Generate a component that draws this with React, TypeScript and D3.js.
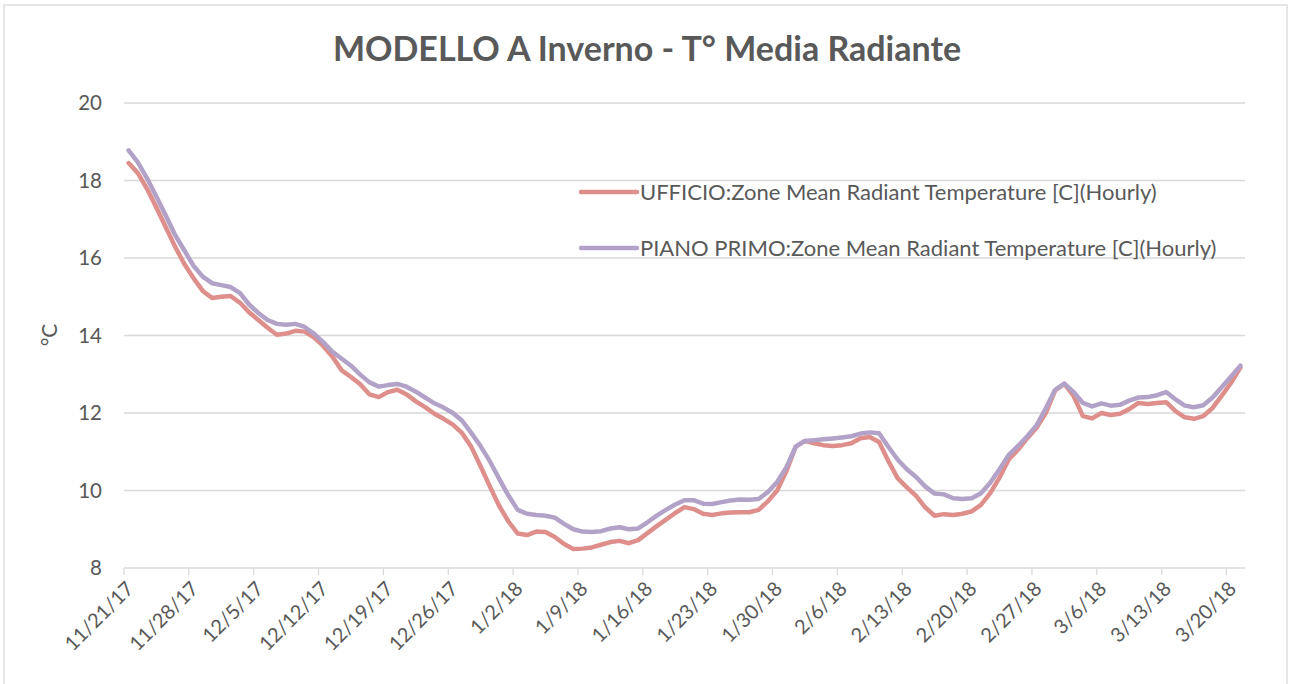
import React from "react";
import * as d3 from "d3";

const startDate = "2017-11-21";
const axisEndDate = "2018-03-22";
const tickLabels = ["11/21/17","11/28/17","12/5/17","12/12/17","12/19/17","12/26/17","1/2/18","1/9/18","1/16/18","1/23/18","1/30/18","2/6/18","2/13/18","2/20/18","2/27/18","3/6/18","3/13/18","3/20/18"];
const yTicks = [8, 10, 12, 14, 16, 18, 20];

const seriesNames = [
  "UFFICIO:Zone Mean Radiant Temperature [C](Hourly)",
  "PIANO PRIMO:Zone Mean Radiant Temperature [C](Hourly)",
];

const ufficio = [
  18.45, 18.19, 17.78, 17.3, 16.8, 16.3, 15.85, 15.48, 15.15, 14.97,
  15.0, 15.02, 14.85, 14.6, 14.4, 14.2, 14.02, 14.05, 14.12, 14.1,
  13.95, 13.73, 13.45, 13.1, 12.93, 12.74, 12.48, 12.41, 12.54, 12.6,
  12.48, 12.3, 12.15, 11.98, 11.85, 11.7, 11.48, 11.12, 10.62, 10.1,
  9.6, 9.2, 8.89, 8.85, 8.94, 8.93, 8.8, 8.62, 8.49, 8.5,
  8.53, 8.6, 8.67, 8.7, 8.64, 8.72, 8.9, 9.08, 9.25, 9.42,
  9.57, 9.52, 9.4, 9.37, 9.41, 9.43, 9.44, 9.44, 9.5, 9.72,
  10.0, 10.5, 11.13, 11.28, 11.22, 11.17, 11.15, 11.17, 11.22, 11.35,
  11.38, 11.25, 10.76, 10.32, 10.08, 9.86, 9.56, 9.35, 9.39, 9.37,
  9.4, 9.46, 9.63, 9.93, 10.33, 10.8, 11.05, 11.35, 11.62, 12.0,
  12.58, 12.75, 12.44, 11.92, 11.86, 12.0, 11.95, 11.98, 12.1, 12.26,
  12.23, 12.26, 12.28, 12.05, 11.89, 11.85, 11.92, 12.13, 12.45, 12.78,
  13.17,
];

const pianoPrimo = [
  18.78, 18.47, 18.05, 17.58, 17.1, 16.6, 16.2, 15.8, 15.52, 15.35,
  15.3, 15.25, 15.1, 14.8, 14.58, 14.4, 14.3, 14.28, 14.3, 14.22,
  14.05, 13.83, 13.58, 13.4, 13.22, 12.99, 12.79, 12.68, 12.72, 12.75,
  12.68, 12.55, 12.4, 12.25, 12.14, 12.0, 11.8, 11.48, 11.14, 10.75,
  10.3, 9.87, 9.5, 9.4, 9.37, 9.35, 9.3, 9.14, 9.0, 8.94,
  8.93, 8.95, 9.02, 9.05, 9.0, 9.02, 9.18, 9.35, 9.5, 9.64,
  9.75, 9.75, 9.66, 9.65, 9.7, 9.74, 9.77, 9.76, 9.78, 9.96,
  10.22, 10.6, 11.13, 11.28, 11.3, 11.32, 11.34, 11.37, 11.4, 11.47,
  11.5, 11.48, 11.13, 10.8, 10.55, 10.35, 10.1, 9.92, 9.9, 9.8,
  9.78, 9.8, 9.93, 10.2, 10.55, 10.92, 11.15, 11.4, 11.68, 12.12,
  12.6, 12.76, 12.54, 12.26, 12.17, 12.25, 12.19, 12.21, 12.32, 12.4,
  12.41, 12.46, 12.54, 12.35, 12.19, 12.15, 12.2, 12.4, 12.67, 12.94,
  13.22,
];

const colors = ["#DE8F8B", "#B3A2C7"];
const FONT = "Lato, 'Open Sans', sans-serif";
const TXT = "#595959";
const GRID = "#D9D9D9";

export default function App() {
  const W = 1290, H = 684;
  const left = 124, right = 1245, top = 103, bottom = 568;
  const t0 = new Date(startDate + "T00:00:00Z");
  const t1 = new Date(axisEndDate + "T00:00:00Z");
  const x = d3.scaleUtc().domain([t0, t1]).range([left, right]);
  const y = d3.scaleLinear().domain([8, 20]).range([bottom, top]);
  const DAY = 86400000;
  const dateAt = (i: number) => new Date(t0.getTime() + i * DAY + DAY / 2);
  const line = d3
    .line<number>()
    .x((_, i) => x(dateAt(i)))
    .y((v) => y(v))
    .curve(d3.curveLinear);
  const tickDates = tickLabels.map((_, i) => new Date(t0.getTime() + i * 7 * DAY));
  const series = [ufficio, pianoPrimo];
  const legendY = [192, 248];

  return (
    <svg width={W} height={H} style={{ position: "absolute", left: 0, top: 0 }} fontFamily={FONT}>
      <rect x={0} y={0} width={W} height={H} fill="#fff" />
      <rect x={4} y={5} width={1283} height={720} fill="none" stroke={GRID} strokeWidth={1.3} />
      <text x={647} y={61} textAnchor="middle" fontSize={34} fontWeight="bold" fill={TXT}>
        MODELLO A Inverno - T° Media Radiante
      </text>
      {yTicks.map((t) => (
        <g key={t}>
          <line x1={left} x2={right} y1={y(t)} y2={y(t)} stroke={GRID} strokeWidth={1.3} />
          <text x={102} y={y(t)} dy="0.35em" textAnchor="end" fontSize={20.5} fill={TXT}>
            {t}
          </text>
        </g>
      ))}
      {tickDates.map((d, i) => (
        <g key={i}>
          <line x1={x(d)} x2={x(d)} y1={bottom} y2={bottom + 7} stroke={GRID} strokeWidth={1.3} />
          <text
            transform={`translate(${x(d) + 6},${bottom + 17}) rotate(-45)`}
            textAnchor="end"
            dy="0.35em"
            fontSize={20}
            fill={TXT}
          >
            {tickLabels[i]}
          </text>
        </g>
      ))}
      <text transform={`translate(57,335) rotate(-90)`} textAnchor="middle" fontSize={21} fill={TXT}>
        °C
      </text>
      {series.map((s, k) => (
        <path key={k} d={line(s) || ""} fill="none" stroke={colors[k]} strokeWidth={4.5} strokeLinejoin="round" strokeLinecap="round" />
      ))}
      {seriesNames.map((n, k) => (
        <g key={n}>
          <line x1={581} x2={637} y1={legendY[k]} y2={legendY[k]} stroke={colors[k]} strokeWidth={4.5} strokeLinecap="round" />
          <text x={640} y={legendY[k]} dy="0.35em" fontSize={22} fill={TXT}>
            {n}
          </text>
        </g>
      ))}
    </svg>
  );
}
